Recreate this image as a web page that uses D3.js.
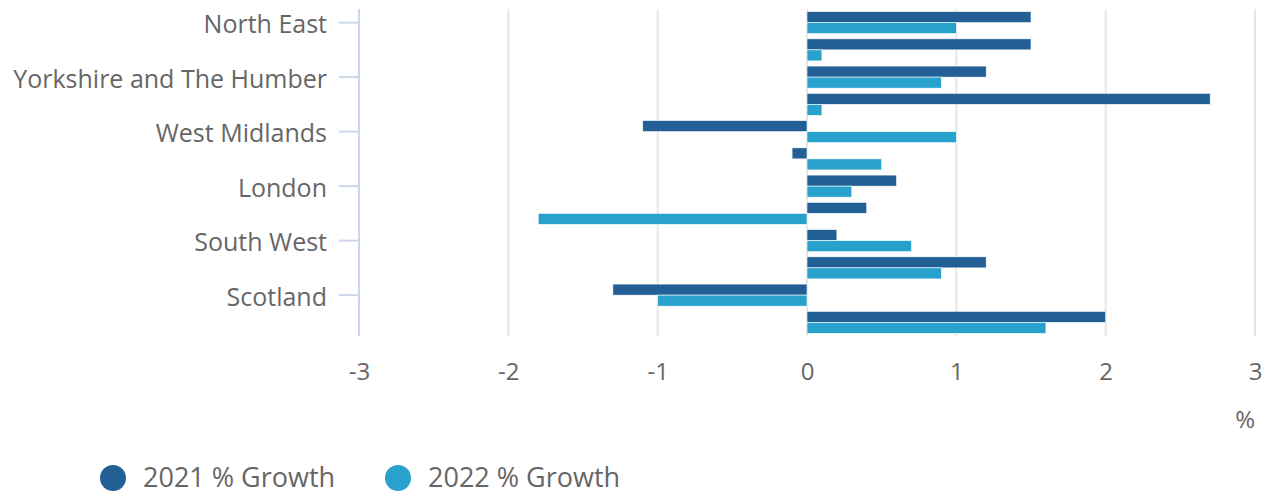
<!DOCTYPE html>
<html><head><meta charset="utf-8">
<script src="https://cdn.jsdelivr.net/npm/d3@7"></script>
<style>html,body{margin:0;padding:0;background:#fff;}svg{display:block;font-family:"Open Sans",sans-serif;}</style>
</head><body>
<svg id="c" width="1268" height="495"></svg>
<script>
const categories = ["North East","North West","Yorkshire and The Humber","East Midlands","West Midlands","East of England","London","South East","South West","Wales","Scotland","Northern Ireland"];
const seriesNames = ["2021 % Growth","2022 % Growth"];
const growth2021 = [1.5,1.5,1.2,2.7,-1.1,-0.1,0.6,0.4,0.2,1.2,-1.3,2.0];
const growth2022 = [1.0,0.1,0.9,0.1,1.0,0.5,0.3,-1.8,0.7,0.9,-1.0,1.6];
const xTicks = [-3,-2,-1,0,1,2,3];
const colors = ["#215f95","#29a1cd"];

(function(){
const svg = d3.select("#c");
const pLeft = 359, pRight = 1255, pTop = 9, pBottom = 336;
const x = d3.scaleLinear().domain([-3,3]).range([pLeft,pRight]);
const y = d3.scaleBand().domain(categories).range([pTop,pBottom]).paddingInner(0.19).paddingOuter(0.095);
const yIn = d3.scaleBand().domain([0,1]).range([0,y.bandwidth()]);

svg.append("g").selectAll("line").data(xTicks.filter(d=>d!==-3)).join("line")
  .attr("x1",d=>x(d)).attr("x2",d=>x(d)).attr("y1",pTop).attr("y2",pBottom)
  .attr("stroke","#e6e6e6").attr("stroke-width",2);

const series = [growth2021, growth2022];
series.forEach((vals,si)=>{
  svg.append("g").selectAll("rect").data(vals).join("rect")
    .attr("x",d=>x(Math.min(0,d)))
    .attr("width",d=>Math.abs(x(d)-x(0)))
    .attr("y",(d,i)=>y(categories[i])+yIn(si))
    .attr("height",yIn.bandwidth())
    .attr("fill",colors[si])
    .attr("stroke","#ffffff").attr("stroke-width",0.6);
});

const shown = categories.filter((d,i)=>i%2===0);
const yAxis = d3.axisLeft(y).tickValues(shown).tickSize(20).tickPadding(12);
const ga = svg.append("g").attr("transform",`translate(${pLeft},0)`).call(yAxis);
ga.select(".domain").attr("d",`M0,${pTop}V${pBottom}`).attr("stroke","#ccd6eb").attr("stroke-width",2);
ga.selectAll(".tick line").attr("stroke","#ccd6eb").attr("stroke-width",2);
ga.selectAll(".tick text").attr("fill","#666666").attr("dy","0.42em")
  .style("font-size","25px").style("font-family","'Open Sans'");

const xAxis = d3.axisBottom(x).tickValues(xTicks).tickSize(0).tickPadding(27);
const gx = svg.append("g").attr("transform",`translate(0,${pBottom})`).call(xAxis);
gx.select(".domain").remove();
gx.selectAll(".tick text").attr("fill","#666666").style("font-size","24px").style("font-family","'Open Sans'")
  .text(d=>d<0?"-"+Math.abs(d):String(d));

svg.append("text").attr("x",pRight).attr("y",428).attr("text-anchor","end")
  .attr("fill","#666666").style("font-size","24px").text("%");

const leg = svg.append("g");
const legX = [113, 398];
seriesNames.forEach((n,i)=>{
  leg.append("circle").attr("cx",legX[i]).attr("cy",478).attr("r",13).attr("fill",colors[i]);
  leg.append("text").attr("x",legX[i]+30).attr("y",487).attr("fill","#666666").style("font-size","27px").text(n);
});
})();
</script>
</body></html>
